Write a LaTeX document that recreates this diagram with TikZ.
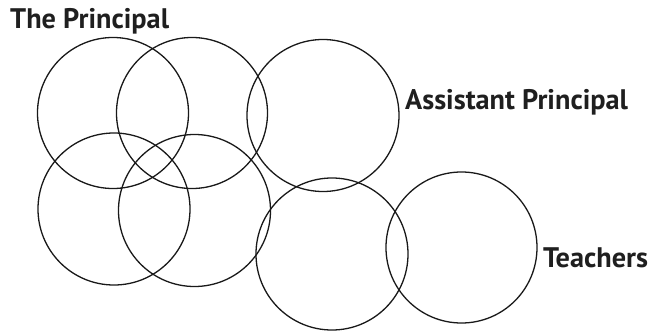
\documentclass[tikz,border=0pt]{standalone}
\usepackage{fontspec}
\setmainfont{PT Sans}
\begin{document}
\begin{tikzpicture}[x=1pt,y=-1pt,
  ring/.style={draw=black!90,line width=1.3pt},
  lbl/.style={font=\bfseries\fontsize{28.3}{32}\selectfont,anchor=base west,inner sep=0pt,text=black!88}]
\useasboundingbox (0,0) rectangle (651,330);
\draw[ring] (113,113) circle (75.5);
\draw[ring] (192,113) circle (75.5);
\draw[ring] (323,115.5) circle (76);
\draw[ring] (114,209) circle (76);
\draw[ring] (194.5,210.5) circle (76);
\draw[ring] (332,254) circle (76);
\draw[ring] (461.5,247.5) circle (75.5);
\node[lbl] (tp) at (10,28) {The Principal};
\node[lbl] (ap) at (405,109) {Assistant Principal};
\node[lbl] (te) at (543,267) {Teachers};
\end{tikzpicture}
\end{document}
